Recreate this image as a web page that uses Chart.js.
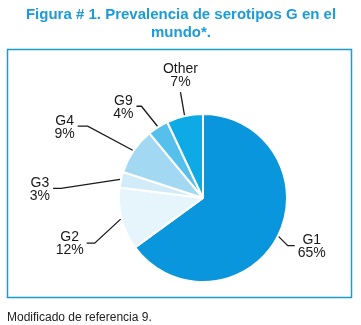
<!DOCTYPE html>
<html>
<head>
<meta charset="utf-8">
<script src="https://cdn.jsdelivr.net/npm/chart.js@4"></script>
<style>
  body { margin: 0; background: #fff; }
  #wrap { position: relative; width: 361px; height: 325px; }
  #chart { position: absolute; left: 0; top: 0; }
  .title {
    position: absolute; left: 0; top: 5px; width: 362px; text-align: center;
    font: bold 15px "Liberation Sans", Arial, sans-serif; line-height: 18px; color: #1c9bd8;
  }
  .note {
    position: absolute; left: 7px; top: 310px;
    font: 12px "Liberation Sans", Arial, sans-serif; line-height: 14px; color: #222;
  }
</style>
</head>
<body>
<div id="wrap">
  <canvas id="chart" width="361" height="325"></canvas>
  <div class="title">Figura # 1. Prevalencia de serotipos G en el<br>mundo*.</div>
  <div class="note">Modificado de referencia 9.</div>
</div>
<script>
const categories = ["G1", "G2", "G3", "G4", "G9", "Other"];
const percents = [65, 12, 3, 9, 4, 7];
const sliceColors = ["#0a96dc", "#e6f4fc", "#d2ebf8", "#a3d8f2", "#56c0ec", "#0eaae6"];

// where each callout goes, relative to the slice's outer edge (side: 1 right, -1 left, 0 above)
const labelPlace = [
  { dx: 9, dy: 9, tick: 7, side: 1 },
  { dx: -26, dy: 24, tick: 8, side: -1 },
  { dx: -59, dy: 9, tick: 8, side: -1 },
  { dx: -45, dy: -24, tick: 10, side: -1 },
  { dx: -16, dy: -20, tick: 5, side: -1 },
  { dx: -4, dy: -23, tick: 0, side: 0 },
];

const frame = {
  id: "frame",
  beforeDraw(chart) {
    const ctx = chart.ctx;
    ctx.save();
    ctx.strokeStyle = "#1a9ad8";
    ctx.lineWidth = 1.5;
    ctx.strokeRect(7.5, 49.5, 344, 248);
    ctx.restore();
  },
};

const callouts = {
  id: "callouts",
  afterDatasetsDraw(chart) {
    const ctx = chart.ctx;
    const meta = chart.getDatasetMeta(0);
    ctx.save();
    ctx.font = '14px "Liberation Sans", Arial, sans-serif';
    ctx.fillStyle = "#1a1a1a";
    ctx.strokeStyle = "#1a1a1a";
    ctx.lineWidth = 1.3;
    meta.data.forEach((arc, i) => {
      const p = labelPlace[i];
      const mid = (arc.startAngle + arc.endAngle) / 2;
      const ax = arc.x + Math.cos(mid) * (arc.outerRadius + 1);
      const ay = arc.y + Math.sin(mid) * (arc.outerRadius + 1);
      const ex = ax + p.dx;
      const ey = ay + p.dy;
      const tx = ex + p.side * p.tick;
      ctx.beginPath();
      ctx.moveTo(ax, ay);
      ctx.lineTo(ex, ey);
      if (p.tick) ctx.lineTo(tx, ey);
      ctx.stroke();

      const lines = [categories[i], percents[i] + "%"];
      const w = Math.max(...lines.map((s) => ctx.measureText(s).width));
      ctx.textAlign = "center";
      ctx.textBaseline = "middle";
      let cx, cy;
      if (p.side === 0) {
        cx = ex;
        cy = ey - 3 - 13;
      } else {
        cx = tx + p.side * (3 + w / 2);
        cy = ey + 1;
      }
      ctx.fillText(lines[0], cx, cy - 6.5);
      ctx.fillText(lines[1], cx, cy + 6.5);
    });
    ctx.restore();
  },
};

new Chart(document.getElementById("chart"), {
  type: "pie",
  data: {
    labels: categories,
    datasets: [
      {
        data: percents,
        backgroundColor: sliceColors,
        borderColor: "#ffffff",
        borderWidth: 2,
      },
    ],
  },
  options: {
    responsive: false,
    animation: false,
    layout: { padding: { left: 118, right: 73, top: 113, bottom: 42 } },
    plugins: {
      legend: { display: false },
      tooltip: { enabled: false },
    },
  },
  plugins: [frame, callouts],
});
</script>
</body>
</html>
